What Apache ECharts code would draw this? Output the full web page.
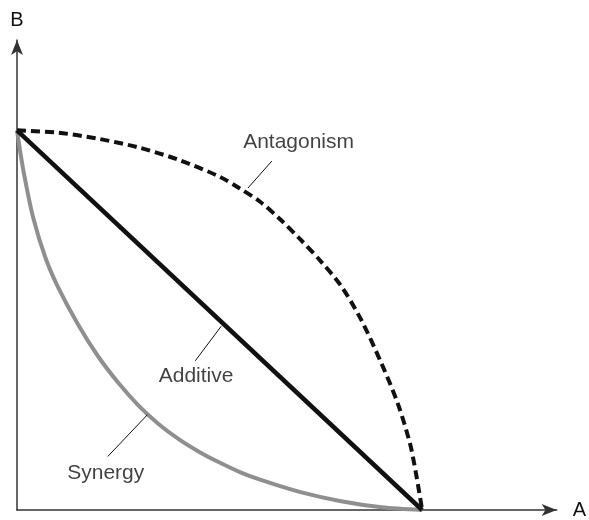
<!DOCTYPE html>
<html style="height: 100%">
   <head>
       <meta charset="utf-8">
   </head>
   <body style="height: 100%; margin: 0">
       <div id="container" style="width: 589px; height: 520px"></div>
       <script type="text/javascript" src="https://cdn.jsdelivr.net/npm/echarts@6/dist/echarts.min.js"></script>
       <script type="text/javascript">
// isobologram: dose of A on x, dose of B on y
var additive = [[0, 1], [1, 0]];
var antagonism = [
    [0, 1], [0.1, 0.994], [0.2, 0.978], [0.3, 0.955], [0.4, 0.922],
    [0.5, 0.878], [0.55, 0.847], [0.6, 0.812], [0.65, 0.765], [0.7, 0.712],
    [0.75, 0.655], [0.8, 0.59], [0.85, 0.5], [0.9, 0.385], [0.94, 0.28],
    [0.97, 0.175], [0.985, 0.095], [1, 0]
];
var synergy = [
    [0, 1], [0.01, 0.93], [0.02, 0.87], [0.04, 0.77], [0.07, 0.665],
    [0.1, 0.59], [0.15, 0.49], [0.2, 0.405], [0.25, 0.335], [0.3, 0.275],
    [0.35, 0.226], [0.4, 0.186], [0.45, 0.153], [0.5, 0.125], [0.55, 0.1],
    [0.6, 0.08], [0.7, 0.047], [0.8, 0.023], [0.9, 0.007], [1, 0]
];
// label text, text anchor, leader line start -> end (on the curve)
var notes = [
    {name: 'Antagonism', at: [0.695, 0.969], from: [0.629, 0.919], to: [0.570, 0.848]},
    {name: 'Additive', at: [0.442, 0.353], from: [0.440, 0.393], to: [0.504, 0.484]},
    {name: 'Synergy', at: [0.219, 0.097], from: [0.224, 0.141], to: [0.322, 0.251]}
];

var dom = document.getElementById("container");
var myChart = echarts.init(dom);
var font = 'Liberation Sans, Arial, sans-serif';

function axis(name, max) {
    return {
        type: 'value', min: 0, max: max,
        name: name,
        nameLocation: 'end',
        nameTextStyle: {fontFamily: font, fontSize: 20, color: '#111'},
        axisLine: {
            lineStyle: {color: '#333', width: 1.5},
            symbol: ['none', 'arrow'],
            symbolSize: [9, 15]
        },
        axisTick: {show: false},
        axisLabel: {show: false},
        splitLine: {show: false}
    };
}

var option = {
    animation: false,
    grid: {left: 17, right: 30, top: 40, bottom: 7},
    xAxis: Object.assign(axis('A', 1.332), {nameGap: 16}),
    yAxis: Object.assign(axis('B', 1.238), {nameGap: 10}),
    series: [{
        type: 'line',
        data: synergy,
        smooth: 0.3,
        showSymbol: false,
        lineStyle: {color: '#8f8f8f', width: 4}
    }, {
        type: 'line',
        data: antagonism,
        smooth: 0.3,
        showSymbol: false,
        lineStyle: {color: '#111', width: 4, type: [9, 5]}
    }, {
        type: 'line',
        data: additive,
        showSymbol: false,
        lineStyle: {color: '#111', width: 4.5},
        markLine: {
            silent: true,
            symbol: 'none',
            label: {show: false},
            lineStyle: {color: '#111', width: 1, type: 'solid'},
            data: notes.map(function (n) {
                return [{coord: n.from}, {coord: n.to}];
            })
        }
    }, {
        type: 'scatter',
        symbolSize: 0,
        data: notes.map(function (n) {
            return {name: n.name, value: n.at};
        }),
        label: {
            show: true,
            position: 'inside',
            formatter: '{b}',
            fontFamily: font,
            fontSize: 21,
            color: '#111'
        }
    }]
};
myChart.setOption(option);
       </script>
   </body>
</html>
